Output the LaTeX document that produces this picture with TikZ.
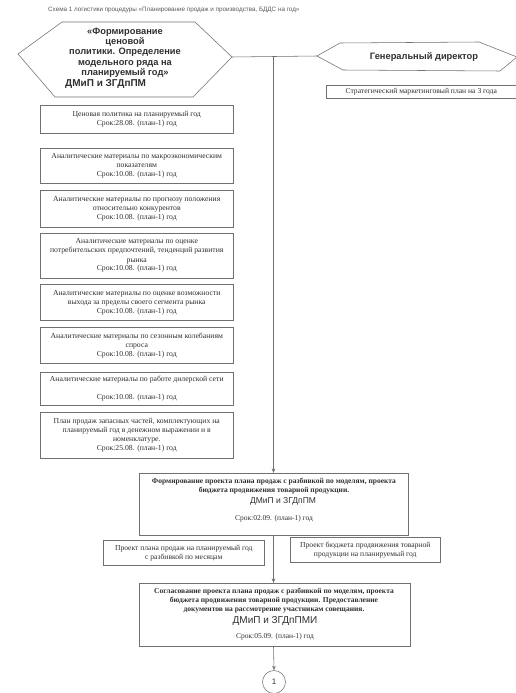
\documentclass[tikz,border=0pt]{standalone}
\usepackage{fontspec}
\setmainfont{Liberation Serif}
\setsansfont{Liberation Sans}
\usetikzlibrary{arrows.meta}
\definecolor{linec}{HTML}{707070}
\definecolor{txtc}{HTML}{303030}
\begin{document}
\begin{tikzpicture}[x=1pt,y=-1pt]
\tikzset{
 ln/.style={draw=linec, line width=0.55pt},
 lbox/.style={ln, minimum width=193pt, anchor=north west, inner sep=1pt, align=center, text=txtc, font=\fontsize{7.7}{9}\selectfont},
 mbox/.style={ln, minimum width=269pt, anchor=north west, inner sep=1pt, align=center, text=txtc, font=\fontsize{7.5}{9}\selectfont},
 sbox/.style={ln, anchor=north west, inner sep=1pt, align=center, text=txtc, font=\fontsize{7.6}{9}\selectfont},
 arr/.style={ln, -{Stealth[length=4.5pt,width=3.5pt]}},
 hexfont/.style={text=txtc, font=\sffamily\bfseries\fontsize{9.3}{10.3}\selectfont, align=center, inner sep=0pt},
}
\useasboundingbox (0,0) rectangle (516,693);
\fill[white] (0,0) rectangle (516,693);

% title
\node[anchor=west, text=txtc!80, font=\sffamily\fontsize{6.3}{7}\selectfont, inner sep=0pt] (title) at (48,10)
  {Схема 1 логистики процедуры «Планирование продаж и производства, БДДС на год»};

% left hexagon
\draw[ln] (18,54) -- (62,22) -- (195,22) -- (232,57) -- (193,97) -- (55,97) -- cycle;
\coordinate (h1r) at (232,57);
\node[hexfont] (h1t) at (125,52.5) {«Формирование\\ценовой\\политики. Определение\\модельного ряда на\\планируемый год»};
\node[hexfont, anchor=west, font=\sffamily\bfseries\fontsize{10}{11}\selectfont] (h1d) at (65,84) {ДМиП и ЗГДпПМ};

% right hexagon
\draw[ln] (317,56) -- (340,43) -- (479,42) -- (517,57) -- (500,71) -- (343,70) -- cycle;
\coordinate (h2l) at (317,56);
\node[hexfont] (h2t) at (424,57) {Генеральный директор};

\draw[ln] (h1r) -- (h2l);
\coordinate (jn) at (273.5,56.5);

% strategic plan
\node[sbox, minimum width=190pt, minimum height=13pt] (sp) at (326,85) {Стратегический маркетинговый план на 3 года};

% left boxes
\node[lbox, minimum height=28pt] (b1) at (40,105) {Ценовая политика на планируемый год\\Срок:28.08. (план-1) год};
\node[lbox, minimum height=35pt] (b2) at (40,148) {Аналитические материалы по макроэкономическим\\показателям\\Срок:10.08. (план-1) год};
\node[lbox, minimum height=37pt] (b3) at (40,190) {Аналитические материалы по прогнозу положения\\относительно конкурентов\\Срок:10.08. (план-1) год};
\node[lbox, minimum height=45pt] (b4) at (40,233) {Аналитические материалы по оценке\\потребительских предпочтений, тенденций развития\\рынка\\Срок:10.08. (план-1) год};
\node[lbox, minimum height=36pt] (b5) at (40,284) {Аналитические материалы по оценке возможности\\выхода за пределы своего сегмента рынка\\Срок:10.08. (план-1) год};
\node[lbox, minimum height=36pt] (b6) at (40,327) {Аналитические материалы по сезонным колебаниям\\спроса\\Срок:10.08. (план-1) год};
\node[lbox, minimum height=33pt] (b7) at (40,372) {Аналитические материалы по работе дилерской сети\\[9pt]Срок:10.08. (план-1) год};
\node[lbox, minimum height=46pt] (b8) at (40,412) {План продаж запасных частей, комплектующих на\\планируемый год в денежном выражении и в\\номенклатуре.\\Срок:25.08. (план-1) год};

% main box 1
\node[mbox, minimum height=62pt] (m1) at (139,473) {};
\node[text=txtc, font=\bfseries\fontsize{7.5}{9}\selectfont, align=center, inner sep=0pt] (m1a) at (274,486.5)
  {Формирование проекта плана продаж с разбивкой по моделям, проекта\\бюджета продвижения товарной продукции.};
\node[text=txtc, font=\sffamily\fontsize{8.5}{10}\selectfont, inner sep=0pt] (m1b) at (283,501) {ДМиП и ЗГДпПМ};
\node[text=txtc, font=\fontsize{7.5}{9}\selectfont, inner sep=0pt] (m1c) at (274,519) {Срок:02.09. (план-1) год};

% small boxes
\node[sbox, minimum width=161pt, minimum height=25pt] (s1) at (103,540) {Проект плана продаж на планируемый год\\с разбивкой по месяцам};
\node[sbox, minimum width=150pt, minimum height=25pt] (s2) at (290,537) {Проект бюджета продвижения товарной\\продукции на планируемый год};

% main box 2
\node[mbox, minimum width=271pt, minimum height=63pt] (m2) at (139,583) {};
\node[text=txtc, font=\bfseries\fontsize{7.5}{9}\selectfont, align=center, inner sep=0pt] (m2a) at (274,601)
  {Согласование проекта плана продаж с разбивкой по моделям, проекта\\бюджета продвижения товарной продукции. Предоставление\\документов на рассмотрение участникам совещания.};
\node[text=txtc, font=\sffamily\fontsize{10}{11}\selectfont, inner sep=0pt] (m2b) at (275,620.5) {ДМиП и ЗГДпПМИ};
\node[text=txtc, font=\fontsize{7.5}{9}\selectfont, inner sep=0pt] (m2c) at (275,637) {Срок:05.09. (план-1) год};

% circle
\node[ln, circle, minimum size=23pt, inner sep=0pt, text=txtc, font=\sffamily\fontsize{8}{9}\selectfont] (c1) at (274,682) {1};

% connectors
\draw[arr] (jn) -- (jn |- m1.north);
\draw[arr] (m1.south -| jn) -- (m2.north -| jn);
\draw[arr] (m2.south -| jn) -- (c1.north);
\end{tikzpicture}
\end{document}
